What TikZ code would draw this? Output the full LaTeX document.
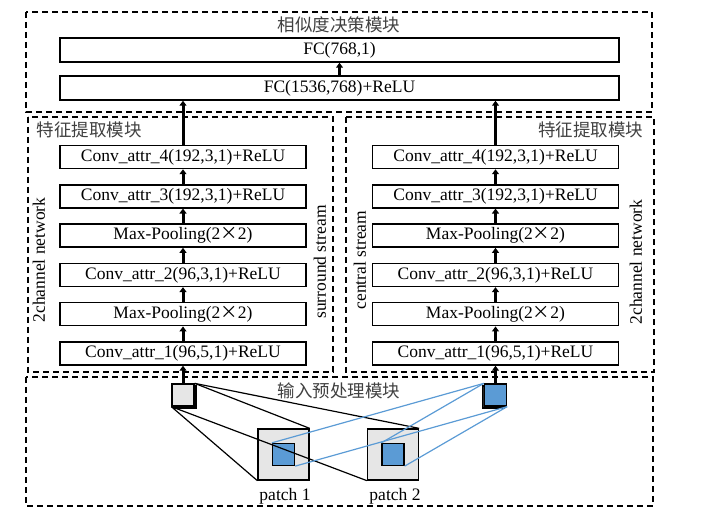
\documentclass[tikz,border=0pt]{standalone}
\usepackage{fontspec}
\setmainfont{Liberation Serif}
\newfontfamily\cjk{Noto Sans CJK SC}
\usetikzlibrary{arrows.meta, shadows}
\definecolor{patchblue}{HTML}{5B9BD5}
\definecolor{patchgray}{HTML}{E6E6E6}

\begin{document}
\begin{tikzpicture}[x=1pt, y=-1pt, node distance=39.3pt, font=\fontsize{17.5}{20}\selectfont]
	\tikzstyle{layer} = [rectangle, minimum width=246pt, minimum height=23pt, 
	inner sep=0pt, text centered, draw=black, line width=1.5pt]
	\tikzstyle{fc} = [layer, minimum width=559pt, minimum height=24pt]
	\tikzstyle{module} = [dash pattern=on 6pt off 4pt, line width=1.3pt]
	\tikzstyle{title} = [text=black!75, font=\cjk\fontsize{17.5}{20}\selectfont]
	\tikzstyle{stream} = [rotate=90]
	\tikzstyle{arrow} = [line width=3pt, -{Triangle[length=5pt, width=7pt]}]
	\tikzstyle{input} = [rectangle, minimum size=22pt, inner sep=0pt, 
	draw=black, line width=1.3pt]
	\tikzstyle{patch} = [rectangle, minimum size=51pt, inner sep=0pt, 
	draw=black, fill=patchgray, line width=1.3pt]
	\tikzstyle{link} = [line width=1.2pt]
	\useasboundingbox (0,0) rectangle (715,518);
	% module frames
	\draw [module] (26,12) rectangle (652,112);
	\draw [module] (28,117) rectangle (333,372);
	\draw [module] (346,117) rectangle (654,372);
	\draw [module] (26,377) rectangle (653,506);
	\node (simTitle) [title] at (339,25) {相似度决策模块};
	\node (featTitleL) [title, anchor=west] at (33,130) {特征提取模块};
	\node (featTitleR) [title, anchor=east] at (647,130) {特征提取模块};
	\node (inputTitle) [title] at (339,391) {输入预处理模块};
	% decision layers
	\node (fcTop) [fc] at (339.5,50) {FC(768,1)};
	\node (fcMid) [fc] at (339.5,88) {FC(1536,768)+ReLU};
	% surround stream
	\node (convL1) [layer] at (183,353.5) {Conv\_attr\_1(96,5,1)+ReLU};
	\node (poolL1) [layer, above of=convL1] {Max-Pooling(2{\cjk ×}2)};
	\node (convL2) [layer, above of=poolL1] {Conv\_attr\_2(96,3,1)+ReLU};
	\node (poolL2) [layer, above of=convL2] {Max-Pooling(2{\cjk ×}2)};
	\node (convL3) [layer, above of=poolL2] {Conv\_attr\_3(192,3,1)+ReLU};
	\node (convL4) [layer, above of=convL3] {Conv\_attr\_4(192,3,1)+ReLU};
	% central stream
	\node (convR1) [layer] at (495.5,353.5) {Conv\_attr\_1(96,5,1)+ReLU};
	\node (poolR1) [layer, above of=convR1] {Max-Pooling(2{\cjk ×}2)};
	\node (convR2) [layer, above of=poolR1] {Conv\_attr\_2(96,3,1)+ReLU};
	\node (poolR2) [layer, above of=convR2] {Max-Pooling(2{\cjk ×}2)};
	\node (convR3) [layer, above of=poolR2] {Conv\_attr\_3(192,3,1)+ReLU};
	\node (convR4) [layer, above of=convR3] {Conv\_attr\_4(192,3,1)+ReLU};
	\node (netL) [stream] at (39,260) {2channel network};
	\node (surround) [stream] at (320,262) {surround stream};
	\node (central) [stream] at (360,260) {central stream};
	\node (netR) [stream] at (636,262) {2channel network};
	% inputs and patches
	\node (inL) [input, fill=patchgray, copy shadow={fill=black!60, 
	shadow xshift=2pt, shadow yshift=-2pt}] at (183,395) {};
	\node (inR) [input, fill=patchblue, copy shadow={fill=black!85, 
	shadow xshift=-2pt, shadow yshift=-2pt}] at (495.5,395) {};
	\node (patchA) [patch] at (283.5,454.5) {};
	\node (patchAin) [input, fill=patchblue] at (patchA) {};
	\node (patchB) [patch] at (393,454.5) {};
	\node (patchBin) [input, fill=patchblue] at (patchB) {};
	\node (labelA) at (285,496) {patch 1};
	\node (labelB) at (395,496) {patch 2};
	\draw [arrow] (inL) -- (convL1);
	\draw [arrow] (convL1) -- (poolL1);
	\draw [arrow] (poolL1) -- (convL2);
	\draw [arrow] (convL2) -- (poolL2);
	\draw [arrow] (poolL2) -- (convL3);
	\draw [arrow] (convL3) -- (convL4);
	\draw [arrow] (convL4.north) -- (convL4.north |- fcMid.south);
	\draw [arrow] (inR) -- (convR1);
	\draw [arrow] (convR1) -- (poolR1);
	\draw [arrow] (poolR1) -- (convR2);
	\draw [arrow] (convR2) -- (poolR2);
	\draw [arrow] (poolR2) -- (convR3);
	\draw [arrow] (convR3) -- (convR4);
	\draw [arrow] (convR4.north) -- (convR4.north |- fcMid.south);
	\draw [arrow] (fcMid) -- (fcTop);
	\draw [link] (inL.north east) -- (patchA.north east);
	\draw [link] (inL.north east) -- (patchB.north east);
	\draw [link] (inL.south west) -- (patchA.south west);
	\draw [link] (inL.south west) -- (patchB.south west);
	\draw [link, patchblue] (inR.north west) -- (patchAin.north west);
	\draw [link, patchblue] (inR.north west) -- (patchBin.north west);
	\draw [link, patchblue] (inR.south east) -- (patchAin.south east);
	\draw [link, patchblue] (inR.south east) -- (patchBin.south east);
\end{tikzpicture}
\end{document}
